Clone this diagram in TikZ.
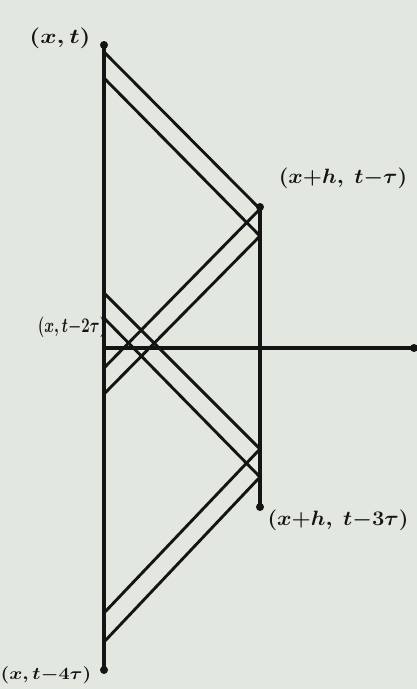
\documentclass[tikz,border=0pt]{standalone}
\usepackage{graphicx}
\begin{document}
\begin{tikzpicture}[x=1pt,y=-1pt,line cap=round,line join=round,
  bgcol/.style={fill={rgb,255:red,226;green,231;blue,224}},
  axisline/.style={draw={rgb,255:red,20;green,20;blue,20},line width=3.3pt},
  charline/.style={draw={rgb,255:red,20;green,20;blue,20},line width=2.9pt},
  enddot/.style={fill={rgb,255:red,20;green,20;blue,20}},
  lbl/.style={text={rgb,255:red,20;green,20;blue,20},inner sep=0pt}]
\fill[bgcol] (0,0) rectangle (417,689);
\useasboundingbox (0,0) rectangle (417,689);
% axis points
\coordinate (L0) at (104,45);
\coordinate (L1) at (104,670);
\coordinate (R0) at (260,207);
\coordinate (R1) at (260,507);
\coordinate (H0) at (104,348);
\coordinate (H1) at (414,348);
% characteristic points
\coordinate (D1) at (104,52);
\coordinate (D2) at (104,78);
\coordinate (Ra) at (260,209);
\coordinate (Rb) at (260,236);
\coordinate (U1) at (104,368);
\coordinate (U2) at (104,394);
\coordinate (D3) at (104,293);
\coordinate (D4) at (104,318);
\coordinate (Rc) at (260,449);
\coordinate (Rd) at (260,477);
\coordinate (U3) at (104,613);
\coordinate (U4) at (104,642);
% axes
\draw[axisline] (L0) -- (L1);
\draw[axisline] (R0) -- (R1);
\draw[axisline] (H0) -- (H1);
% characteristics
\draw[charline] (D1) -- (Ra) -- (U1);
\draw[charline] (D2) -- (Rb) -- (U2);
\draw[charline] (D3) -- (Rc) -- (U3);
\draw[charline] (D4) -- (Rd) -- (U4);
% dots
\fill[enddot] (L0) circle (4pt);
\fill[enddot] (L1) circle (4pt);
\fill[enddot] (R0) circle (4pt);
\fill[enddot] (R1) circle (4pt);
\fill[enddot] (H1) circle (4pt);
% labels
\node[lbl] (lt) at (60,38) {\scalebox{1.2}[1]{\fontsize{21}{24}\selectfont\boldmath$(x,t)$}};
\node[lbl] (lr1) at (343,178) {\scalebox{1.06}[1]{\fontsize{20}{24}\selectfont\boldmath$(x{+}h,\ t{-}\tau)$}};
\node[lbl] (lm) at (72,327) {\scalebox{0.72}[1]{\fontsize{20}{24}\selectfont\boldmath$(x,t{-}2\tau)$}};
\node[lbl] (lr3) at (338,520) {\scalebox{1.06}[1]{\fontsize{20}{24}\selectfont\boldmath$(x{+}h,\ t{-}3\tau)$}};
\node[lbl] (lb) at (46,675) {\scalebox{1.15}[1]{\fontsize{18}{22}\selectfont\boldmath$(x,t{-}4\tau)$}};
\end{tikzpicture}
\end{document}
